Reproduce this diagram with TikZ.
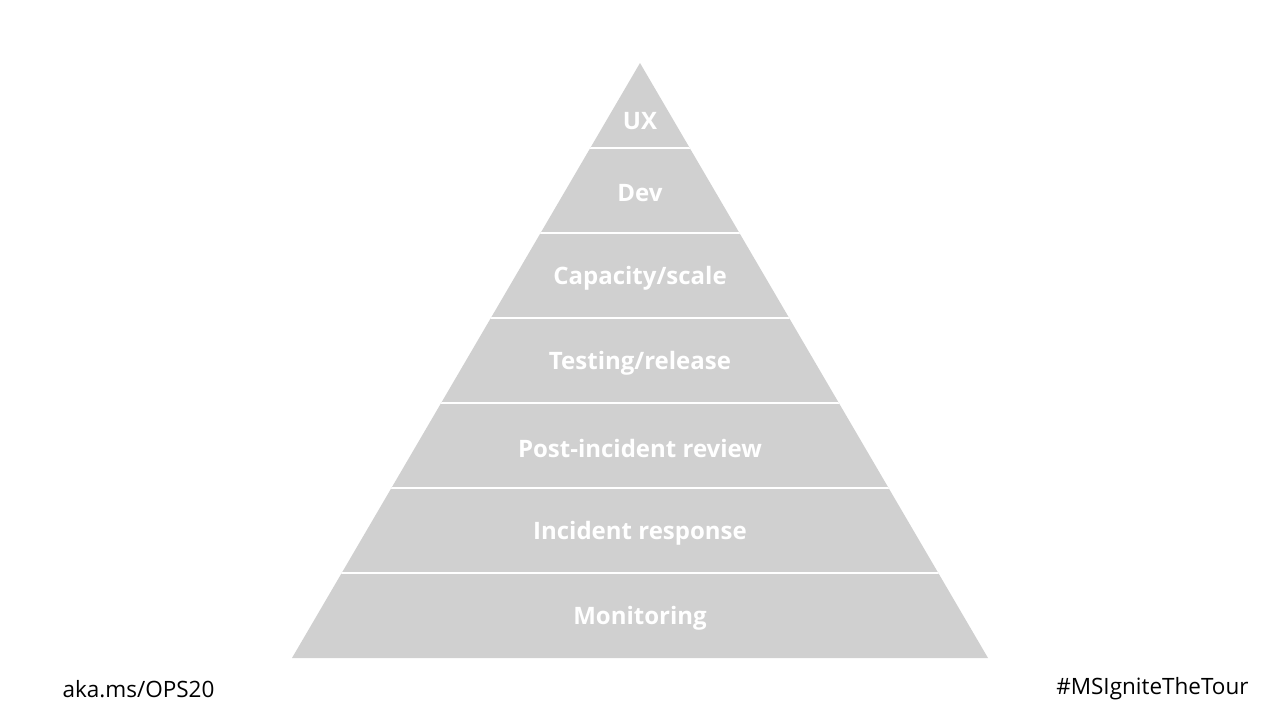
\documentclass[tikz,border=0pt]{standalone}
\usepackage{fontspec}
\setmainfont{Open Sans}
\usepackage{tikz}
\definecolor{capa}{HTML}{D0D0D0}
\tikzset{
  capatxt/.style={text=white,font=\fontsize{24}{28}\selectfont\bfseries},
  pie/.style={text=black,font=\fontsize{22.5}{26}\selectfont}
}

\begin{document}
\begin{tikzpicture}[x=1pt,y=-1pt]
  \useasboundingbox[fill=white] (0,0) rectangle (1280,720);
  % piramide
  \coordinate (cima) at (640,63);
  \coordinate (izq) at (292,658);
  \coordinate (der) at (988,658);
  \fill[capa] (cima)--(izq)--(der)--cycle;

  % separaciones entre capas
  \begin{scope}
    \clip (cima)--(izq)--(der)--cycle;
    \foreach \k in {1,...,6}
      \draw[white,line width=2.5pt] (280,63+85*\k)--(1000,63+85*\k);
  \end{scope}

  % etiquetas de las capas
  \node[capatxt] (ux) at (640,121) {UX};
  \foreach \t [count=\i] in {Dev,Capacity/scale,Testing/release,Post-incident review,Incident response,Monitoring}
    \node[capatxt] (capa\i) at (640,193+85*\i-85) {\t};

  % pie de pagina
  \node[pie,anchor=west] (enlace) at (59,689) {aka.ms/OPS20};
  \node[pie,anchor=east] (etiqueta) at (1252,689) {\#MSIgniteTheTour};
\end{tikzpicture}
\end{document}
